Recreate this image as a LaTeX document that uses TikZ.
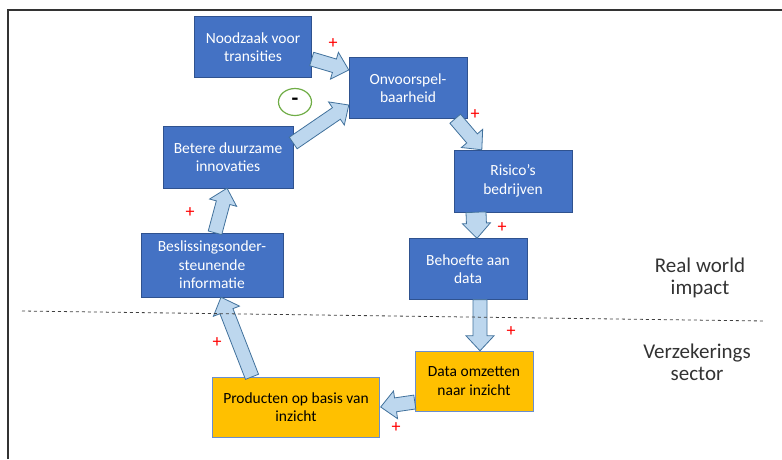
\documentclass[tikz,border=0pt]{standalone}
\usepackage{fontspec}
\setmainfont{Carlito}
\usetikzlibrary{calc,shapes.geometric}
\definecolor{boxblue}{HTML}{4472C4}
\definecolor{boxedge}{HTML}{2F528F}
\definecolor{boxorange}{HTML}{FFC000}
\definecolor{arrowfill}{HTML}{BDD7EE}
\definecolor{arrowedge}{HTML}{41719C}
\definecolor{minusgreen}{HTML}{70AD47}
\tikzset{
  box/.style={draw=boxedge, fill=boxblue, text=white, align=center, inner sep=0pt,
    font=\fontsize{15.5}{18.5}\selectfont},
  inzicht/.style={box, draw=boxblue!80, fill=boxorange, text=black},
  plus/.style={text=red, font=\fontsize{18}{18}\selectfont},
  side/.style={align=center, text=black!80, font=\fontsize{21}{22}\selectfont}
}
% fat block arrow from #2 to #3, half shaft width #1
\newcommand{\fatarrow}[3][7]{
  \coordinate (fa-s) at #2;
  \coordinate (fa-e) at #3;
  \coordinate (fa-h) at ($(fa-e)!15pt!(fa-s)$);
  \filldraw[fill=arrowfill, draw=arrowedge, line width=0.8pt, line join=miter]
    ($(fa-s)!#1pt!90:(fa-e)$) -- ($(fa-h)!#1pt!-90:(fa-s)$)
    -- ($(fa-h)!14pt!-90:(fa-s)$) -- (fa-e)
    -- ($(fa-h)!14pt!90:(fa-s)$) -- ($(fa-h)!#1pt!90:(fa-s)$)
    -- ($(fa-s)!#1pt!-90:(fa-e)$) -- cycle;
}

\begin{document}
\begin{tikzpicture}[x=1pt, y=-1pt]
  \useasboundingbox (0,0) rectangle (782,459);
  \draw[black!80, line width=1.5pt] (8,459) -- (8,10) -- (782,10);

  \node[box, minimum width=117pt, minimum height=61pt] (nood) at (253,47) {Noodzaak voor\\transities};
  \node[box, minimum width=118pt, minimum height=61pt] (onvo) at (408,88) {Onvoorspel-\\baarheid};
  \node[box, minimum width=130pt, minimum height=62pt] (bete) at (228,157) {Betere duurzame\\innovaties};
  \node[box, minimum width=142pt, minimum height=64pt] (besl) at (212,265) {Beslissingsonder-\\steunende\\informatie};
  \node[box, minimum width=118pt, minimum height=62pt] (risi) at (513,181) {Risico’s\\bedrijven};
  \node[box, minimum width=118pt, minimum height=61pt] (beho) at (468,269) {Behoefte aan\\data};
  \node[inzicht, minimum width=118pt, minimum height=60pt] (data) at (474,381) {Data omzetten\\naar inzicht};
  \node[inzicht, minimum width=167pt, minimum height=60pt] (prod) at (296,407) {Producten op basis van\\inzicht};

  % feedback arrows
  \fatarrow{($(nood.east)+(0,12)$)}{($(onvo.west)+(0,-18)$)}
  \fatarrow{($(bete.east)+(0,-14)$)}{($(onvo.west)+(0,17)$)}
  \fatarrow{($(onvo.south east)+(-12,0)$)}{($(risi.north west)+(28,0)$)}
  \fatarrow[10]{($(risi.south)+(-37,0)$)}{($(beho.north)+(9,0)$)}
  \fatarrow{($(beho.south)+(12,0)$)}{($(data.north)+(6,0)$)}
  \fatarrow{($(data.west)+(0,21)$)}{($(prod.east)+(1,0)$)}
  \fatarrow{($(prod.north)+(-44,0)$)}{($(besl.south)+(9,0)$)}
  \fatarrow{($(besl.north)+(3,0)$)}{($(bete.south)+(-1,0)$)}

  \node[plus] (p1) at (333,44) {+};
  \node[plus] (p2) at (475,115) {+};
  \node[plus] (p3) at (190,213) {+};
  \node[plus] (p4) at (502,228) {+};
  \node[plus] (p5) at (511,332) {+};
  \node[plus] (p6) at (217,343) {+};
  \node[plus] (p7) at (396,428) {+};
  \node[ellipse, draw=minusgreen, line width=1.2pt, minimum width=33pt, minimum height=27pt,
    font=\bfseries\fontsize{22}{22}\selectfont] (minus) at (295,102) {-};

  \draw[dashed, black!75, line width=0.8pt] (22,311) -- (765,321);
  \node[side] (real) at (700,278) {Real world\\impact};
  \node[side] (verz) at (697,362) {Verzekerings\\sector};
\end{tikzpicture}
\end{document}
